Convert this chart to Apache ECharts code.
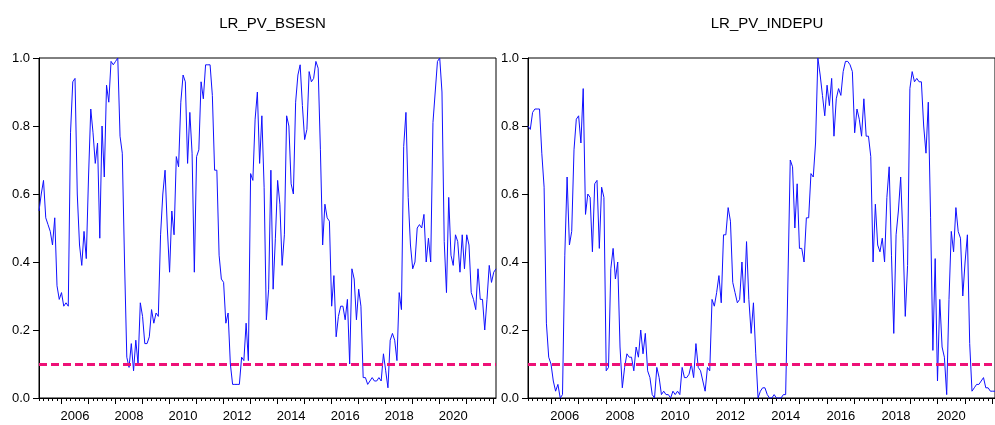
<!DOCTYPE html>
<html>
<head>
<meta charset="utf-8">
<script src="https://cdn.jsdelivr.net/npm/echarts@6/dist/echarts.min.js"></script>
<style>
html, body { margin: 0; padding: 0; background: #fff; }
#chart { width: 995px; height: 425px; }
</style>
</head>
<body>
<div id="chart"></div>
<script>
// monthly values, 2005M03 .. 2022M02
var bsesn = [
    0.55, 0.60, 0.64, 0.53, 0.51, 0.49, 0.45, 0.53, 0.33, 0.29,
    0.31, 0.27, 0.28, 0.27, 0.78, 0.93, 0.94, 0.60, 0.45, 0.39,
    0.49, 0.41, 0.65, 0.85, 0.78, 0.69, 0.75, 0.47, 0.80, 0.65,
    0.92, 0.87, 0.99, 0.98, 0.99, 1.00, 0.77, 0.72, 0.40, 0.12,
    0.09, 0.16, 0.08, 0.17, 0.10, 0.28, 0.24, 0.16, 0.16, 0.18,
    0.26, 0.22, 0.25, 0.24, 0.48, 0.60, 0.67, 0.50, 0.37, 0.55,
    0.48, 0.71, 0.68, 0.87, 0.95, 0.93, 0.69, 0.84, 0.72, 0.37,
    0.71, 0.73, 0.93, 0.88, 0.98, 0.98, 0.98, 0.89, 0.67, 0.67,
    0.42, 0.35, 0.34, 0.22, 0.25, 0.10, 0.04, 0.04, 0.04, 0.04,
    0.12, 0.11, 0.22, 0.11, 0.66, 0.64, 0.82, 0.90, 0.69, 0.83,
    0.62, 0.23, 0.32, 0.67, 0.32, 0.47, 0.64, 0.57, 0.39, 0.48,
    0.83, 0.80, 0.63, 0.60, 0.87, 0.95, 0.98, 0.86, 0.76, 0.79,
    0.96, 0.93, 0.94, 0.99, 0.97, 0.73, 0.45, 0.57, 0.53, 0.52,
    0.27, 0.36, 0.18, 0.24, 0.27, 0.27, 0.23, 0.29, 0.10, 0.38,
    0.35, 0.23, 0.32, 0.27, 0.06, 0.06, 0.04, 0.05, 0.06, 0.05,
    0.05, 0.06, 0.05, 0.13, 0.08, 0.03, 0.17, 0.19, 0.17, 0.11,
    0.31, 0.26, 0.74, 0.84, 0.59, 0.45, 0.38, 0.40, 0.50, 0.51,
    0.50, 0.54, 0.40, 0.47, 0.40, 0.81, 0.90, 0.99, 1.00, 0.90,
    0.46, 0.31, 0.59, 0.42, 0.39, 0.48, 0.46, 0.37, 0.48, 0.38,
    0.48, 0.45, 0.31, 0.29, 0.26, 0.38, 0.29, 0.29, 0.20, 0.29,
    0.39, 0.34, 0.37, 0.38
];
var indepu = [
    0.80, 0.79, 0.84, 0.85, 0.85, 0.85, 0.72, 0.62, 0.22, 0.12,
    0.10, 0.05, 0.02, 0.04, 0.00, 0.01, 0.42, 0.65, 0.45, 0.49,
    0.73, 0.82, 0.83, 0.75, 0.91, 0.54, 0.60, 0.59, 0.43, 0.63,
    0.64, 0.44, 0.62, 0.59, 0.08, 0.09, 0.38, 0.44, 0.35, 0.40,
    0.15, 0.03, 0.09, 0.13, 0.12, 0.12, 0.08, 0.15, 0.12, 0.20,
    0.13, 0.19, 0.08, 0.06, 0.01, 0.00, 0.09, 0.06, 0.01, 0.02,
    0.01, 0.01, 0.00, 0.02, 0.01, 0.02, 0.01, 0.09, 0.06, 0.06,
    0.07, 0.10, 0.06, 0.16, 0.09, 0.08, 0.05, 0.02, 0.09, 0.08,
    0.29, 0.27, 0.31, 0.36, 0.28, 0.48, 0.48, 0.56, 0.52, 0.34,
    0.31, 0.28, 0.29, 0.40, 0.28, 0.46, 0.29, 0.19, 0.28, 0.13,
    0.00, 0.02, 0.03, 0.03, 0.01, 0.00, 0.00, 0.01, 0.00, 0.00,
    0.00, 0.01, 0.01, 0.35, 0.70, 0.68, 0.50, 0.63, 0.44, 0.44,
    0.40, 0.53, 0.53, 0.66, 0.65, 0.75, 1.00, 0.95, 0.89, 0.83,
    0.92, 0.86, 0.94, 0.77, 0.88, 0.91, 0.89, 0.96, 0.99, 0.99,
    0.98, 0.96, 0.78, 0.85, 0.82, 0.77, 0.88, 0.77, 0.77, 0.71,
    0.40, 0.57, 0.45, 0.43, 0.47, 0.40, 0.59, 0.68, 0.42, 0.19,
    0.48, 0.55, 0.65, 0.47, 0.24, 0.39, 0.91, 0.96, 0.93, 0.94,
    0.93, 0.93, 0.80, 0.72, 0.87, 0.53, 0.14, 0.41, 0.05, 0.29,
    0.15, 0.12, 0.01, 0.29, 0.49, 0.43, 0.56, 0.49, 0.47, 0.30,
    0.40, 0.48, 0.16, 0.02, 0.03, 0.04, 0.04, 0.05, 0.06, 0.03,
    0.03, 0.02, 0.02, 0.02
];
var titles = ['LR_PV_BSESN', 'LR_PV_INDEPU'];
var threshold = 0.1;
var startYear = 2005, startMonth = 3;

// month labels like 2005-03
var months = [];
for (var k = 0; k < bsesn.length; k++) {
    var m = startMonth - 1 + k;
    var yy = startYear + Math.floor(m / 12);
    var mm = m % 12 + 1;
    months.push(yy + '-' + (mm < 10 ? '0' + mm : mm));
}
function monthOf(v) { return parseInt(v.slice(5), 10); }
function yearOf(v) { return parseInt(v.slice(0, 4), 10); }

var font = 'Liberation Sans, Arial, sans-serif';
var grids = [
    { left: 39, top: 58, width: 457, height: 340 },
    { left: 528, top: 58, width: 468, height: 340 }
];

var option = {
    animation: false,
    backgroundColor: '#fff',
    title: [],
    grid: [],
    xAxis: [],
    yAxis: [],
    series: []
};

[bsesn, indepu].forEach(function (vals, g) {
    var gr = grids[g];
    option.title.push({
        text: titles[g],
        left: gr.left + gr.width / 2,
        top: 11,
        textAlign: 'center',
        textStyle: { fontFamily: font, fontSize: 15, fontWeight: 'normal', color: '#000' }
    });
    option.grid.push({
        left: gr.left, top: gr.top, width: gr.width, height: gr.height,
        show: true, borderColor: '#000', borderWidth: 1, backgroundColor: '#fff'
    });
    // axis with labels and short ticks every two months
    option.xAxis.push({
        type: 'category', gridIndex: g, data: months, boundaryGap: false,
        axisLine: { lineStyle: { color: '#000', width: 1 } },
        axisTick: {
            length: 3, lineStyle: { color: '#000' },
            interval: function (i, v) { return monthOf(v) % 2 === 1; }
        },
        axisLabel: {
            margin: 12, color: '#000', fontFamily: font, fontSize: 13,
            interval: function (i, v) { return monthOf(v) === 7 && yearOf(v) % 2 === 0; },
            formatter: function (v) { return v.slice(0, 4); }
        },
        splitLine: { show: false }
    });
    // overlay axis with long ticks at January
    option.xAxis.push({
        type: 'category', gridIndex: g, data: months, boundaryGap: false, position: 'bottom',
        axisLine: { show: false },
        axisTick: {
            length: 6, lineStyle: { color: '#000' },
            interval: function (i, v) { return monthOf(v) === 1; }
        },
        axisLabel: { show: false },
        splitLine: { show: false }
    });
    option.yAxis.push({
        type: 'value', gridIndex: g, min: 0, max: 1, interval: 0.2,
        axisLine: { show: true, lineStyle: { color: '#000', width: 1 } },
        axisTick: { show: true, length: 6, lineStyle: { color: '#000' } },
        axisLabel: {
            margin: 9, color: '#000', fontFamily: font, fontSize: 13,
            formatter: function (v) { return v.toFixed(1); }
        },
        splitLine: { show: false }
    });
    option.series.push({
        type: 'line', xAxisIndex: g * 2, yAxisIndex: g, data: vals,
        symbol: 'none', lineStyle: { color: '#1010ff', width: 1 },
        markLine: {
            silent: true, symbol: 'none', label: { show: false },
            lineStyle: { color: '#ee1177', width: 3, type: [8, 4] },
            data: [{ yAxis: threshold }]
        }
    });
});

var chart = echarts.init(document.getElementById('chart'));
chart.setOption(option);
</script>
</body>
</html>
